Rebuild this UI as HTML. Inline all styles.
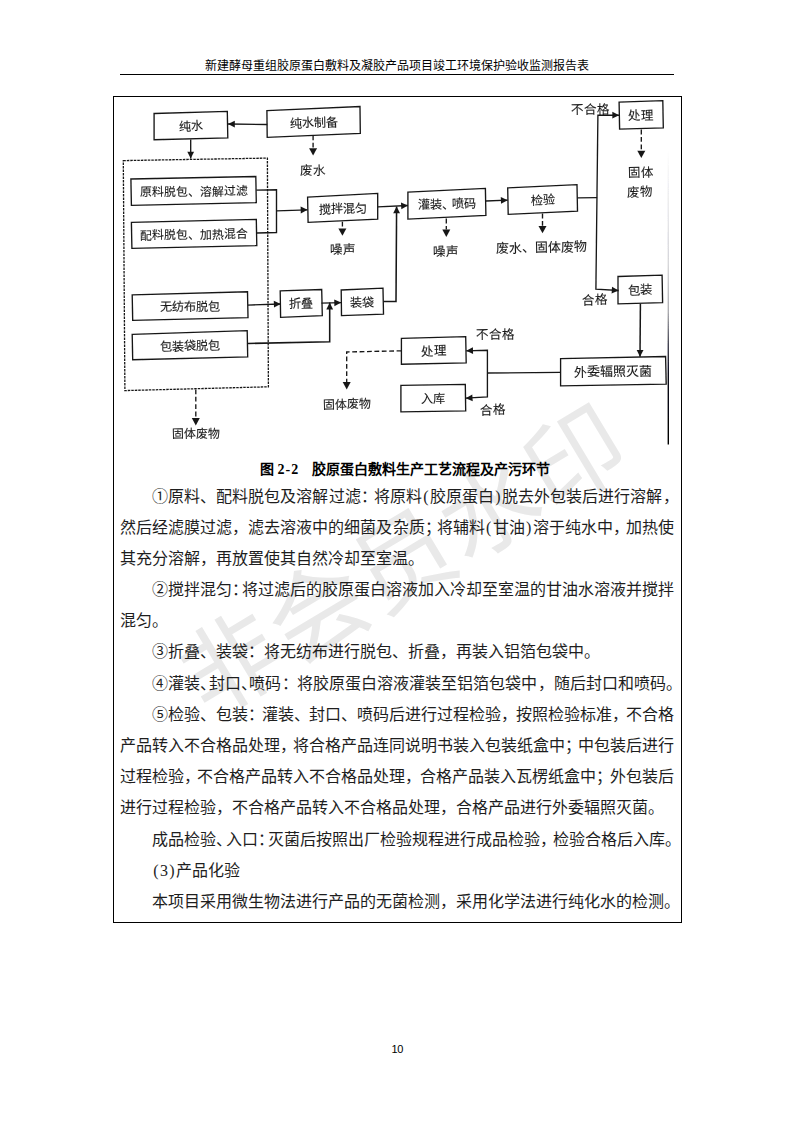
<!DOCTYPE html>
<html lang="zh-CN">
<head>
<meta charset="utf-8">
<title>新建酵母重组胶原蛋白敷料及凝胶产品项目竣工环境保护验收监测报告表</title>
<style>
html,body{margin:0;padding:0;background:#fff}
body{width:793px;height:1122px;position:relative;overflow:hidden;font-family:"Liberation Serif",serif;color:#000}
.hdr{position:absolute;left:0;width:793px;top:58px;height:16px;line-height:16px;text-align:center;font-family:"Liberation Sans",sans-serif;font-size:12px;letter-spacing:0}
.hline{position:absolute;left:120px;top:74px;width:554px;height:1px;background:#000}
.frame{position:absolute;left:113px;top:96px;width:567px;height:825px;border:1px solid #000}
.dg{position:absolute;left:0;top:0}
.dt{font-family:"Liberation Serif",serif;font-size:12.2px;stroke:#181818;stroke-width:0.1px}
.wm{position:absolute;left:105px;top:501px;width:600px;height:120px;line-height:120px;text-align:center;font-family:"Liberation Sans",sans-serif;font-size:98px;font-weight:normal;letter-spacing:2px;color:#e9e9e9;transform:rotate(-31deg);transform-origin:50% 50%;white-space:nowrap}
.cap{position:absolute;left:259.5px;width:300px;top:460px;height:20px;line-height:20px;font-size:14px;font-weight:bold;white-space:nowrap}
.cap span{display:inline-block;width:38px;box-sizing:border-box;padding-left:4px;letter-spacing:1px}
.ln{position:absolute;left:120px;width:554px;height:31px;line-height:31px;font-size:16px;color:#1e1e1e;white-space:nowrap;box-sizing:border-box}
.ln.in{padding-left:32px}
.ln.j{text-align:justify;text-align-last:justify}
.q{padding:0 1.33px}

.pg{position:absolute;left:0;width:794.4px;top:1041.9px;height:14px;line-height:14px;text-align:center;font-family:"Liberation Sans",sans-serif;font-size:11px;letter-spacing:-0.4px}
</style>
</head>
<body>
<div class="wm">非会员水印</div>
<div class="hdr">新建酵母重组胶原蛋白敷料及凝胶产品项目竣工环境保护验收监测报告表</div>
<div class="hline"></div>
<div class="frame"></div>
<svg class="dg" width="793" height="1122" viewBox="0 0 793 1122">
<defs><linearGradient id="eg" x1="0" y1="0" x2="0" y2="1"><stop offset="0" stop-color="#334" stop-opacity="0"/><stop offset="0.39" stop-color="#334" stop-opacity="0.2"/><stop offset="0.55" stop-color="#223" stop-opacity="0.38"/><stop offset="0.66" stop-color="#112" stop-opacity="0.78"/><stop offset="0.76" stop-color="#001" stop-opacity="0.96"/><stop offset="1" stop-color="#000" stop-opacity="1"/></linearGradient><filter id="sc" x="-2%" y="-2%" width="104%" height="104%"><feGaussianBlur stdDeviation="0.32"/></filter></defs>
<g filter="url(#sc)">
<rect x="667.6" y="150" width="1.4" height="294.5" fill="url(#eg)"/>
<g fill="none" stroke="#181818" stroke-width="1.35" stroke-linejoin="miter">
<polygon points="154.1,113.5 227.3,111.4 227.8,137.9 154.1,139.7"/>
<polygon points="266.9,110.7 360,106.5 360.3,133.4 267.2,137.3"/>
<polygon points="130.9,179 255.8,176.5 256.3,202.7 131.4,205.3"/>
<polygon points="131.4,222.4 256.3,219.4 256.8,245.6 131.9,248.4"/>
<polygon points="132.2,294.8 247.5,291.8 248,317.7 132.7,320.3"/>
<polygon points="132.2,334.3 247.2,330.7 247.7,356.9 132.7,359.7"/>
<polygon points="307.6,197.2 377.7,193.4 377.7,219.1 308.1,222.4"/>
<polygon points="407.9,192.1 485.4,188.4 485.9,215.3 407.9,219.1"/>
<polygon points="507.7,187.9 577,184.6 577.5,211.1 508.2,214.3"/>
<polygon points="619.1,102.1 662.8,100.6 663.3,127.8 619.6,129.1"/>
<polygon points="618,276.5 662.1,275.2 662.6,302.6 618,303.8"/>
<polygon points="560.6,358.6 665.6,356.5 666.2,384.2 560.6,385.9"/>
<polygon points="401.4,338.3 465.7,336.7 466.2,362.9 401.4,364.2"/>
<polygon points="400.9,385.3 465.3,384.4 465.7,410.9 400.9,411.8"/>
<polygon points="280.2,290.9 321.7,289.5 322.3,315.6 280.6,317.4"/>
<polygon points="341.2,290 383,288.2 383.5,314.2 341.5,315.6"/>
<polyline points="267.3,124.5 228,124"/>
<polyline points="190.7,139.5 190.7,158.5"/>
<polyline points="256.3,190.1 276.5,189.8 276.5,232.5 256.8,233"/>
<polyline points="276.5,210.8 307.5,209.8"/>
<polyline points="377.7,206.8 407.9,205.5"/>
<polyline points="485.9,201 507.7,200.2"/>
<polyline points="577.5,197.9 597.2,197.6"/>
<polyline points="619.1,115.2 597.9,115.2 595.9,289.2 618.6,290.5"/>
<polyline points="640.4,303.8 640,356.8" stroke-width="1.5"/>
<polyline points="560.8,372.4 487.2,373"/>
<polyline points="466.2,350.8 487.4,350.3 487.4,396.9 465.7,398.2"/>
<polyline points="248,305.1 280.7,304"/>
<polyline points="321.4,303.1 341.1,302.6"/>
<polyline points="247.7,343.5 329.7,341.7 329.7,302.6" stroke-width="1.55"/>
<polyline points="383.5,301.4 396,301.4 396.6,206.5" stroke-width="1.55"/>
</g>
<g fill="none" stroke="#181818" stroke-width="1.35" stroke-dasharray="4.8 2.6">
<polygon points="123.3,160.6 267.4,158.1 268.4,386.8 124.9,390.6" stroke-dasharray="2.5 1.0" stroke-width="1.3"/>
<polyline points="313.1,135.4 313.1,148.2"/>
<polyline points="342.4,221.7 342.4,228.4"/>
<polyline points="446.3,218.6 446.3,229.6"/>
<polyline points="542.5,213.6 542.5,225.9"/>
<polyline points="641.3,129.6 641.3,150.7"/>
<polyline points="401.4,350.8 346.7,352 346.7,382"/>
<polyline points="195.8,389.4 195.8,418"/>
</g>
<g fill="#181818" stroke="none">
<polygon points="228,124 234.8,120.7 234.8,127.5"/>
<polygon points="190.7,158.5 187.3,151.7 194.1,151.7"/>
<polygon points="307.5,209.8 300.8,213.4 300.6,206.6"/>
<polygon points="407.9,205.5 401.3,209.2 401,202.4"/>
<polygon points="507.7,200.2 501,203.8 500.8,197.1"/>
<polygon points="618.6,290.5 611.6,293.5 612,286.7"/>
<polygon points="619.1,115.2 612.3,118.6 612.3,111.8"/>
<polygon points="640,356.8 636.7,350 643.5,350"/>
<polygon points="465.7,398.2 472.3,394.4 472.7,401.2"/>
<polygon points="466.2,350.8 472.9,347.2 473.1,354"/>
<polygon points="280.7,304 274,307.6 273.8,300.8"/>
<polygon points="341.1,302.6 334.4,306.2 334.2,299.4"/>
<polygon points="329.7,302.6 333.1,309.4 326.3,309.4"/>
<polygon points="396.6,206.5 400,213.3 393.2,213.3"/>
<polygon points="313.1,155.6 309.1,148.2 317.1,148.2"/>
<polygon points="342.4,235.8 338.4,228.4 346.4,228.4"/>
<polygon points="446.3,237 442.3,229.6 450.3,229.6"/>
<polygon points="542.5,233.3 538.5,225.9 546.5,225.9"/>
<polygon points="641.3,158.1 637.3,150.7 645.3,150.7"/>
<polygon points="346.7,389.4 342.7,382 350.7,382"/>
<polygon points="195.8,425.4 191.8,418 199.8,418"/>
</g>
<g class="dt" fill="#181818" text-anchor="middle">
<text x="190.8" y="130.5" transform="rotate(-0.9 190.8 125.6)">纯水</text>
<text x="313.6" y="126.9" transform="rotate(-1.5 313.6 122)">纯水制备</text>
<text x="193.6" y="195.8" font-size="11.9" transform="rotate(-0.7 193.6 190.9)">原料脱包、溶解过滤</text>
<text x="194.1" y="238.8" font-size="11.9" transform="rotate(-0.8 194.1 233.9)">配料脱包、加热混合</text>
<text x="190.1" y="311" transform="rotate(-0.8 190.1 306.1)">无纺布脱包</text>
<text x="189.9" y="350.3" transform="rotate(-1 189.9 345.4)">包装袋脱包</text>
<text x="342.8" y="212.9" transform="rotate(-1.6 342.8 208)">搅拌混匀</text>
<text x="446.8" y="208.6" transform="rotate(-1.6 446.8 203.7)">灌装、<tspan dx="-2.5">喷码</tspan></text>
<text x="542.6" y="204.4" transform="rotate(-1.6 542.6 199.5)">检验</text>
<text x="641.2" y="119.8" font-size="12.5" transform="rotate(-1.1 641.2 114.9)">处理</text>
<text x="640.2" y="294.4" font-size="12.4" transform="rotate(-1 640.2 289.5)">包装</text>
<text x="613.2" y="376.2" font-size="13.0" transform="rotate(-0.6 613.2 371.3)">外委辐照灭菌</text>
<text x="433.7" y="355.4" font-size="12.5" transform="rotate(-0.8 433.7 350.5)">处理</text>
<text x="433.2" y="403" transform="rotate(-0.5 433.2 398.1)">入库</text>
<text x="301.2" y="308.2" transform="rotate(-1.3 301.2 303.4)">折叠</text>
<text x="362.3" y="306.9" transform="rotate(-1.3 362.3 302)">装袋</text>
<text x="313.1" y="175.1" font-size="12.5" transform="rotate(-1 313.1 170.7)">废水</text>
<text x="342.9" y="253.8" font-size="12.5" transform="rotate(-1 342.9 249.4)">噪声</text>
<text x="446.3" y="255.8" font-size="12.5" transform="rotate(-1 446.3 251.4)">噪声</text>
<text x="541.7" y="252" font-size="13" transform="rotate(-1 541.7 247.6)">废水、固体废物</text>
<text x="590.9" y="114.1" font-size="12.6" transform="rotate(-1 590.9 109.7)">不合格</text>
<text x="640.8" y="177.1" font-size="12.5" transform="rotate(-1 640.8 172.7)">固体</text>
<text x="640.1" y="196.5" font-size="12.5" transform="rotate(-1 640.1 192.1)">废物</text>
<text x="595.2" y="304.5" font-size="12.5" transform="rotate(-1 595.2 300.1)">合格</text>
<text x="495.4" y="338.9" font-size="12.6" transform="rotate(-1 495.4 334.5)">不合格</text>
<text x="492.7" y="414.3" font-size="12.5" transform="rotate(-1 492.7 409.9)">合格</text>
<text x="347.2" y="408.4" font-size="12" transform="rotate(-1 347.2 404)">固体废物</text>
<text x="195.8" y="437.9" font-size="12" transform="rotate(-1 195.8 433.5)">固体废物</text>
</g>
</g>
</svg>
<div class="cap">图<span>2-2</span>胶原蛋白敷料生产工艺流程及产污环节</div>
<div class="ln in j" style="top:480.5px">①原料、配料脱包及溶解过滤<span style="margin-right:-3px">：</span>将原料<span class="q">(</span>胶原蛋白<span class="q">)</span>脱去外包装后进行溶解<span style="margin-right:-4.5px">，</span></div>
<div class="ln j" style="top:511.7px">然后经滤膜过滤，滤去溶液中的细菌及杂质<span style="margin-right:-4px">；</span>将辅料<span class="q">(</span>甘油<span class="q">)</span>溶于纯水中<span style="margin-right:-3px">，</span>加热使</div>
<div class="ln" style="top:542.9px">其充分溶解，再放置使其自然冷却至室温。</div>
<div class="ln in j" style="top:574px">②搅拌混匀<span style="margin-right:-6px">：</span>将过滤后的胶原蛋白溶液加入冷却至室温的甘油水溶液并搅拌</div>
<div class="ln" style="top:605.2px">混匀。</div>
<div class="ln in" style="top:636.4px">③折叠、装袋：将无纺布进行脱包、折叠，再装入铝箔包袋中。</div>
<div class="ln in j" style="top:667.6px">④灌装<span style="margin-right:-7.5px">、</span>封口<span style="margin-right:-7.5px">、</span>喷码<span style="margin-right:-1px">：</span>将胶原蛋白溶液灌装至铝箔包袋中，随后封口和喷码<span style="margin-right:-8px">。</span></div>
<div class="ln in j" style="top:698.8px">⑤检验、包装<span style="margin-right:-2px">：</span>灌装<span style="margin-right:-1px">、</span>封口、喷码后进行过程检验<span style="margin-right:-1.5px">，</span>按照检验标准<span style="margin-right:-1.5px">，</span>不合格</div>
<div class="ln j" style="top:729.9px">产品转入不合格品处理<span style="margin-right:-3px">，</span>将合格产品连同说明书装入包装纸盒中<span style="margin-right:-3px">；</span>中包装后进行</div>
<div class="ln j" style="top:761.1px">过程检验<span style="margin-right:-3px">，</span>不合格产品转入不合格品处理<span style="margin-right:-1.5px">，</span>合格产品装入瓦楞纸盒中<span style="margin-right:-1.5px">；</span>外包装后</div>
<div class="ln" style="top:792.3px">进行过程检验，不合格产品转入不合格品处理，合格产品进行外委辐照灭菌。</div>
<div class="ln in j" style="top:823.5px">成品检验<span style="margin-right:-6px">、</span>入口<span style="margin-right:-6px">：</span>灭菌后按照出厂检验规程进行成品检验<span style="margin-right:-3px">，</span>检验合格后入库<span style="margin-right:-7px">。</span></div>
<div class="ln in" style="top:854.7px"><span class="q">(</span>3<span class="q">)</span>产品化验</div>
<div class="ln in j" style="top:885.8px">本项目采用微生物法进行产品的无菌检测，采用化学法进行纯化水的检测<span style="margin-right:-6px">。</span></div>
<div class="pg">10</div>
</body>
</html>
